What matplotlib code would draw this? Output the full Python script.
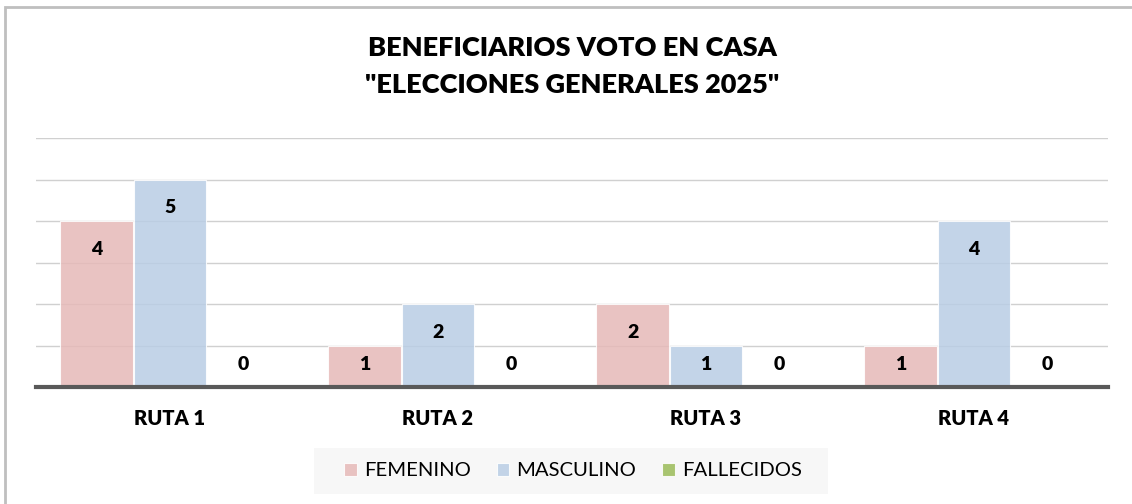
import matplotlib.pyplot as plt
from matplotlib.patches import Rectangle
import numpy as np

rutas = ["RUTA 1", "RUTA 2", "RUTA 3", "RUTA 4"]
femenino = [4, 1, 2, 1]
masculino = [5, 2, 1, 4]
fallecidos = [0, 0, 0, 0]
series = ["FEMENINO", "MASCULINO", "FALLECIDOS"]
colors = ["#e6b9b8", "#b9cde5", "#9bbb59"]

plt.rcParams['font.family'] = ['Lato', 'DejaVu Sans']

W, H = 1132, 504
fig = plt.figure(figsize=(W / 100, H / 100), dpi=100)

# chart frame (only top/left edges visible in the crop)
fig.patches.append(Rectangle((5 / W, -0.1), 1.2, 1 - 7 / H + 0.1, transform=fig.transFigure,
                             fill=False, edgecolor="#bfbfbf", linewidth=2))

ax = fig.add_axes([36 / W, 1 - 387 / H, (1108 - 36) / W, (387 - 138) / H])
x = np.arange(len(rutas))
bw = 0.272
offsets = [-0.274, 0.0, 0.274]

for vals, name, col, off in zip([femenino, masculino, fallecidos], series, colors, offsets):
    ax.bar(x + off, vals, bw, color=col, alpha=0.85, edgecolor="white", linewidth=0.8,
           label=name, zorder=2)
    for xi, v in zip(x + off, vals):
        ax.text(xi, max(v - 0.68, 0.55), str(v), ha="center", va="center",
                fontsize=14, fontweight="heavy", zorder=4)

ax.set_xlim(-0.5, 3.5)
ax.set_ylim(0, 6)
ax.set_yticks(range(1, 7))
ax.yaxis.grid(True, color="#d0d0d0", linewidth=1, zorder=1)
ax.set_axisbelow(True)
ax.tick_params(left=False, labelleft=False, bottom=False)
for s in ["top", "right", "left"]:
    ax.spines[s].set_visible(False)
ax.spines["bottom"].set_color("#595959")
ax.spines["bottom"].set_linewidth(3)
ax.spines["bottom"].set_zorder(5)
ax.set_xticks(x)
ax.set_xticklabels(rutas, fontsize=14.5, fontweight="heavy")
ax.tick_params(axis="x", pad=12)

fig.text(572 / W, 1 - 48 / H, "BENEFICIARIOS VOTO EN CASA", ha="center", va="center",
         fontsize=19.5, fontweight="heavy")
fig.text(572 / W, 1 - 85 / H, "\"ELECCIONES GENERALES 2025\"", ha="center", va="center",
         fontsize=19.5, fontweight="heavy")

fig.patches.append(Rectangle((314 / W, 1 - 494 / H), (828 - 314) / W, 46 / H,
                             transform=fig.transFigure, facecolor="#f7f7f7", edgecolor="none"))
leg = fig.legend(loc="center", bbox_to_anchor=(573 / W, 1 - 471 / H), ncol=3, frameon=False,
                 fontsize=14.6, handlelength=0.6, handleheight=0.6, handletextpad=0.35,
                 columnspacing=1.3)

fig.savefig("out.png", dpi=100)
